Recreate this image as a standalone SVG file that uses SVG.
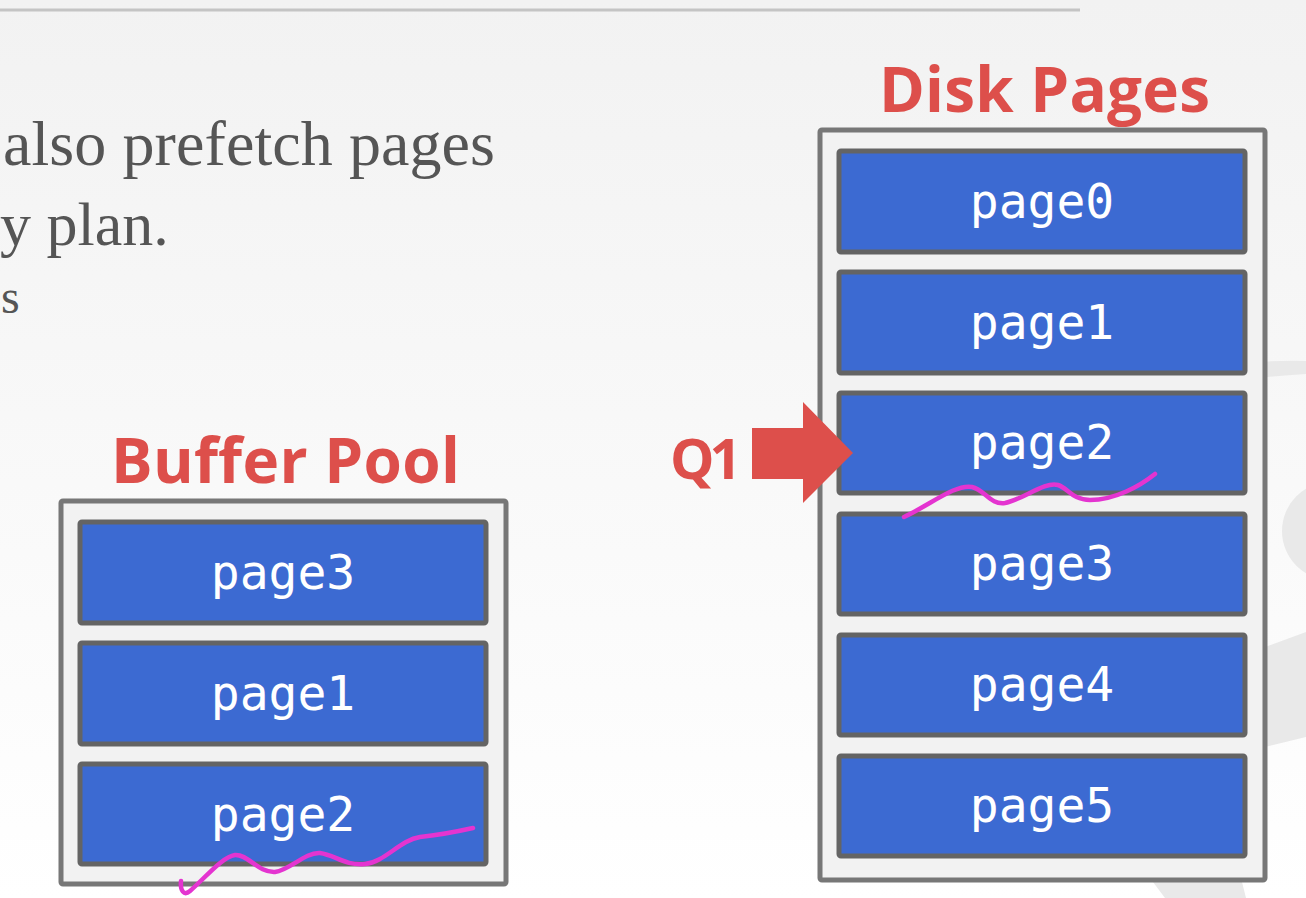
<svg xmlns="http://www.w3.org/2000/svg" width="1306" height="898" viewBox="0 0 1306 898">
  <defs>
    <linearGradient id="bg" x1="0" y1="0" x2="0" y2="1">
      <stop offset="0" stop-color="#f2f2f2"/>
      <stop offset="1" stop-color="#ffffff"/>
    </linearGradient>
    <style>
      .body { font-family: "Liberation Serif", "DejaVu Serif", serif; fill: #555555; }
      .title { font-family: "Open Sans", "Noto Sans", sans-serif; font-weight: bold; fill: #dd4f4b; }
      .frame { fill: #f2f2f2; stroke: #777777; stroke-width: 5; }
      .page { fill: #3c6ad2; stroke: #646464; stroke-width: 5; }
      .label { font-family: "DejaVu Sans Mono", "Liberation Mono", monospace; font-size: 48px; fill: #ffffff; text-anchor: middle; }
      .ink { fill: none; stroke: #e434d0; stroke-width: 4.5; stroke-linecap: round; stroke-linejoin: round; }
      .mark { fill: #e9e9e9; }
    </style>
  </defs>

  <!-- slide background -->
  <rect x="0" y="0" width="1306" height="898" fill="url(#bg)"/>

  <!-- faint logo shapes in the background -->
  <g id="backdrop">
    <path class="mark" d="M1220,366 Q1262,360 1306,361 L1306,374 Q1265,376 1220,384 Z"/>
    <circle class="mark" cx="1331" cy="531" r="49"/>
    <path class="mark" d="M1180,678 L1306,632 L1306,737 L1180,768 Z"/>
    <path class="mark" d="M1150,878 L1241,878 L1246,898 L1165,898 Z"/>
  </g>

  <!-- header rule -->
  <line x1="0" y1="10" x2="1080" y2="10" stroke="#c4c4c4" stroke-width="3"/>

  <!-- body text -->
  <g id="body-text">
    <text class="body" x="3" y="165" font-size="64" textLength="492">also prefetch pages</text>
    <text class="body" x="0" y="245" font-size="62">y plan.</text>
    <text class="body" x="1" y="313" font-size="48">s</text>
  </g>

  <!-- buffer pool -->
  <g id="buffer-pool">
    <text class="title" x="111" y="483" font-size="62" textLength="349">Buffer Pool</text>
    <rect class="frame" x="61" y="501" width="445" height="383" rx="2"/>
    <g id="buffer-page3">
      <rect class="page" x="80" y="522" width="406" height="101" rx="2"/>
      <text class="label" x="283" y="589">page3</text>
    </g>
    <g id="buffer-page1">
      <rect class="page" x="80" y="643" width="406" height="101" rx="2"/>
      <text class="label" x="283" y="710">page1</text>
    </g>
    <g id="buffer-page2">
      <rect class="page" x="80" y="764" width="406" height="100" rx="2"/>
      <text class="label" x="283" y="831">page2</text>
    </g>
  </g>

  <!-- disk pages -->
  <g id="disk-pages">
    <text class="title" x="879" y="112" font-size="62" textLength="331">Disk Pages</text>
    <rect class="frame" x="820" y="130" width="445" height="750" rx="2"/>
    <g id="disk-page0">
      <rect class="page" x="839" y="151" width="406" height="101" rx="2"/>
      <text class="label" x="1042" y="218">page0</text>
    </g>
    <g id="disk-page1">
      <rect class="page" x="839" y="272" width="406" height="101" rx="2"/>
      <text class="label" x="1042" y="339">page1</text>
    </g>
    <g id="disk-page2">
      <rect class="page" x="839" y="393" width="406" height="100" rx="2"/>
      <text class="label" x="1042" y="459">page2</text>
    </g>
    <g id="disk-page3">
      <rect class="page" x="839" y="514" width="406" height="100" rx="2"/>
      <text class="label" x="1042" y="580">page3</text>
    </g>
    <g id="disk-page4">
      <rect class="page" x="839" y="635" width="406" height="100" rx="2"/>
      <text class="label" x="1042" y="701">page4</text>
    </g>
    <g id="disk-page5">
      <rect class="page" x="839" y="756" width="406" height="100" rx="2"/>
      <text class="label" x="1042" y="822">page5</text>
    </g>
  </g>

  <!-- query cursor -->
  <g id="query-q1">
    <text class="title" x="670" y="479" font-size="56" letter-spacing="-5">Q1</text>
  </g>
  <g id="connectors">
    <path fill="#dd4f4b" d="M752,428 L803,428 L803,402 L853,453 L803,503 L803,479 L752,479 Z"/>
  </g>

  <!-- hand-drawn underlines -->
  <g id="annotations">
    <path class="ink" d="M904,517 C930,505 955,484 972,487 C985,490 990,505 1005,503 C1022,500 1045,481 1058,485 C1068,488 1072,500 1090,500 C1115,500 1140,486 1155,474"/>
    <path class="ink" d="M181,881 C180,891 184,896 190,891 C205,878 222,857 235,855 C248,854 258,873 275,872 C290,870 305,852 320,853 C335,855 345,866 365,864 C385,862 400,840 420,837 C440,835 455,832 473,828"/>
  </g>
</svg>
